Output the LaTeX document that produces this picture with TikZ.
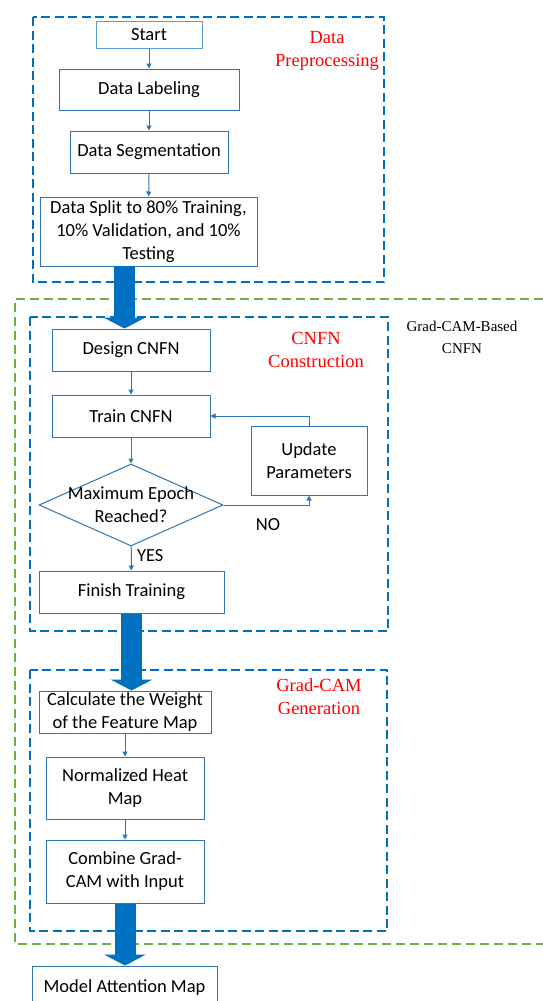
\documentclass[tikz,border=0pt]{standalone}
\usepackage{fontspec}
\setmainfont{Liberation Serif}
\newfontfamily\calibri{Carlito}
\usepackage{tikz}
\usetikzlibrary{positioning, shapes.geometric, arrows.meta, calc}

\definecolor{grpblue}{HTML}{0070C0}
\definecolor{boxblue}{HTML}{2E75B6}
\definecolor{litblue}{HTML}{5B9BD5}
\definecolor{grpgreen}{HTML}{70AD47}
\definecolor{tealarr}{HTML}{2A8C8C}

\begin{document}
\begin{tikzpicture}[
  x=1pt, y=-1pt,
  every node/.style={font=\calibri\fontsize{18.5}{23}\selectfont},
  box/.style={draw=boxblue, line width=1pt, fill=white, align=center, inner sep=0pt},
  group/.style={draw=grpblue, line width=2pt, dash pattern=on 9pt off 4.5pt},
  outer/.style={draw=grpgreen, line width=2pt, dash pattern=on 9pt off 5pt},
  thin/.style={draw=boxblue, line width=1pt, -{Triangle[width=5pt,length=5pt]}},
  bigarrow/.style={draw=grpblue, line width=21pt, -{Triangle[width=42pt,length=11pt,line width=0pt]}},
  grplbl/.style={font=\fontsize{18.5}{23}\selectfont, text=red, align=center},
  lbl/.style={font=\calibri\fontsize{18.5}{23}\selectfont}
]
\useasboundingbox (0,0) rectangle (543,1001);

% Outer green frame (open on the right)
\draw[outer] (543,299) -- (15,299) -- (15,944) -- (543,944);
\node[font=\fontsize{15}{22}\selectfont, align=center] (gcbased) at (462,337) {Grad-CAM-Based\\CNFN};

% Data preprocessing
\draw[group] (33,17) rectangle (384,282);
\node[grplbl] (lblpre) at (327,51) {Data\\Preprocessing};
\node[box, draw=litblue, minimum width=106pt, minimum height=27pt] (start) at (149,34.5) {Start};
\node[box, minimum width=180pt, minimum height=41pt] (labeling) at (149,89.5) {Data Labeling};
\node[box, minimum width=158pt, minimum height=42pt] (segment) at (149,152) {Data Segmentation};
\node[box, minimum width=217pt, minimum height=69pt] (split) at (148.5,231.5) {Data Split to 80\% Training,\\10\% Validation, and 10\%\\Testing};

\draw[thin] (start) -- (labeling);
\draw[thin] (labeling) -- (segment);
\draw[thin] (segment) -- (split);

% CNFN construction
\draw[group] (30,317) rectangle (388,631);
\node[grplbl] (lblcnfn) at (316,349.5) {CNFN\\Construction};
\node[box, minimum width=158pt, minimum height=42pt] (design) at (131,350) {Design CNFN};
\node[box, minimum width=158pt, minimum height=42pt] (train) at (131,416) {Train CNFN};
\node[diamond, aspect=2.24, draw=boxblue, line width=1pt, fill=white, inner sep=0pt,
      minimum width=184pt, minimum height=82pt,
      label={[lbl, align=center]center:Maximum Epoch\\Reached?}] (epoch) at (131,505) {};
\node[box, minimum width=116pt, minimum height=69pt] (update) at (309,460.5) {Update\\Parameters};
\node[box, minimum width=185pt, minimum height=42pt] (finish) at (131.5,592) {Finish Training};

\draw[thin] (design) -- (train);
\draw[thin, draw=tealarr] (train) -- (epoch);
\draw[thin] (epoch) -- node[lbl, right=2pt, pos=0.4] {YES} (finish);
\draw[thin] (epoch.east) -| (update.south);
\node[lbl] (nolbl) at (268,525) {NO};
\draw[thin] (update.north) |- (train.east);

% Grad-CAM generation
\draw[group] (30,670) rectangle (387,931);
\node[grplbl] (lblgen) at (319,696.5) {Grad-CAM\\Generation};
\node[box, minimum width=172pt, minimum height=42pt] (weight) at (125,712) {Calculate the Weight\\of the Feature Map};
\node[box, minimum width=158pt, minimum height=62pt] (heat) at (125,788) {Normalized Heat\\Map};
\node[box, minimum width=158pt, minimum height=63pt] (combine) at (125,871.5) {Combine Grad-\\CAM with Input};

\draw[thin] (weight) -- (heat);
\draw[thin] (heat) -- (combine);

% Result
\node[box, minimum width=185pt, minimum height=44pt] (attn) at (124.5,988) {Model Attention Map};

% Big arrows between stages
\coordinate (out1) at (124.5,266);
\draw[bigarrow] (out1) -- (out1 |- design.north);
\draw[bigarrow] (finish.south) -- (finish.south |- weight.north);
\draw[bigarrow] (combine.south) -- (combine.south |- attn.north);

\end{tikzpicture}
\end{document}
